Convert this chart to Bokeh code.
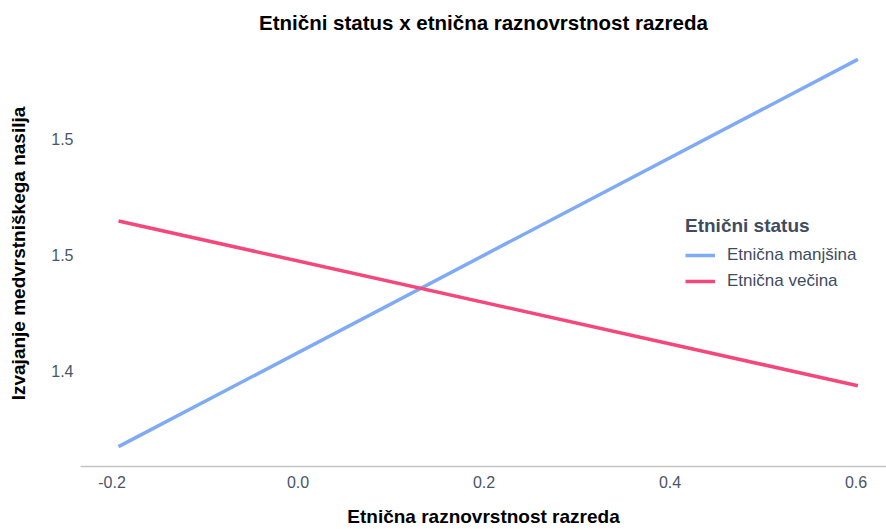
from bokeh.plotting import figure
from bokeh.models import Range1d, Legend, LegendItem, FixedTicker, CustomJSTickFormatter
from bokeh.embed import file_html
from bokeh.resources import INLINE

# data
x_vals = [-0.193, 0.602]
manjsina = [1.3672, 1.5345]
vecina = [1.4647, 1.3935]
x_ticks = [-0.2, 0.0, 0.2, 0.4, 0.6]
y_ticks = [1.40, 1.45, 1.50]
y_tick_labels = {1.40: "1.4", 1.45: "1.5", 1.50: "1.5"}

FONT = "Liberation Sans"
TICK_COLOR = "#4a5568"
LEG_COLOR = "#3f4c5e"

p = figure(width=886, height=529, output_backend="svg", toolbar_location=None,
           x_range=Range1d(-0.23387, 0.6328), y_range=Range1d(1.35862, 1.54267),
           min_border_left=80, min_border_right=0, min_border_top=40, min_border_bottom=62)
p.title.text = "Etnični status x etnična raznovrstnost razreda"
p.title.align = "center"
p.title.text_font = FONT
p.title.text_font_size = "20.5px"
p.title.text_color = "black"
p.title.offset = 3
p.title.standoff = 14

p.grid.visible = False
p.outline_line_color = None
p.background_fill_color = "white"

r1 = p.line(x_vals, manjsina, line_color="#7faaf6", line_width=3.5)
r2 = p.line(x_vals, vecina, line_color="#f4477b", line_width=3.5)

p.xaxis.ticker = FixedTicker(ticks=x_ticks)
p.xaxis.formatter = CustomJSTickFormatter(code="return tick.toFixed(1);")
p.yaxis.ticker = FixedTicker(ticks=y_ticks)
p.yaxis.major_label_overrides = y_tick_labels

for ax in (p.xaxis[0], p.yaxis[0]):
    ax.major_tick_line_color = None
    ax.minor_tick_line_color = None
    ax.major_tick_out = 0
    ax.major_tick_in = 0
    ax.major_label_text_font = FONT
    ax.major_label_text_font_size = "16px"
    ax.major_label_text_color = TICK_COLOR
    ax.axis_label_text_font = FONT
    ax.axis_label_text_font_size = "19px"
    ax.axis_label_text_font_style = "bold"
    ax.axis_label_text_color = "black"

p.xaxis.axis_label = "Etnična raznovrstnost razreda"
p.xaxis.axis_line_color = "#c4c4c4"
p.xaxis.axis_line_width = 1.5
p.xaxis.major_label_standoff = 9
p.xaxis.axis_label_standoff = 15
p.yaxis.axis_label = "Izvajanje medvrstniškega nasilja"
p.yaxis.axis_line_color = None
p.yaxis.major_label_standoff = 7
p.yaxis.axis_label_standoff = 19

legend = Legend(items=[LegendItem(label="Etnična manjšina", renderers=[r1]),
                       LegendItem(label="Etnična večina", renderers=[r2])],
                location=(605, 175), title="Etnični status")
legend.title_text_font = FONT
legend.title_text_font_size = "19px"
legend.title_text_font_style = "bold"
legend.title_text_color = LEG_COLOR
legend.title_standoff = 8
legend.label_text_font = FONT
legend.label_text_font_size = "17px"
legend.label_text_color = LEG_COLOR
legend.label_standoff = 12
legend.border_line_color = None
legend.background_fill_alpha = 0
legend.glyph_width = 30
legend.spacing = 6
p.add_layout(legend)

open("out.html", "w").write(file_html(p, INLINE))
